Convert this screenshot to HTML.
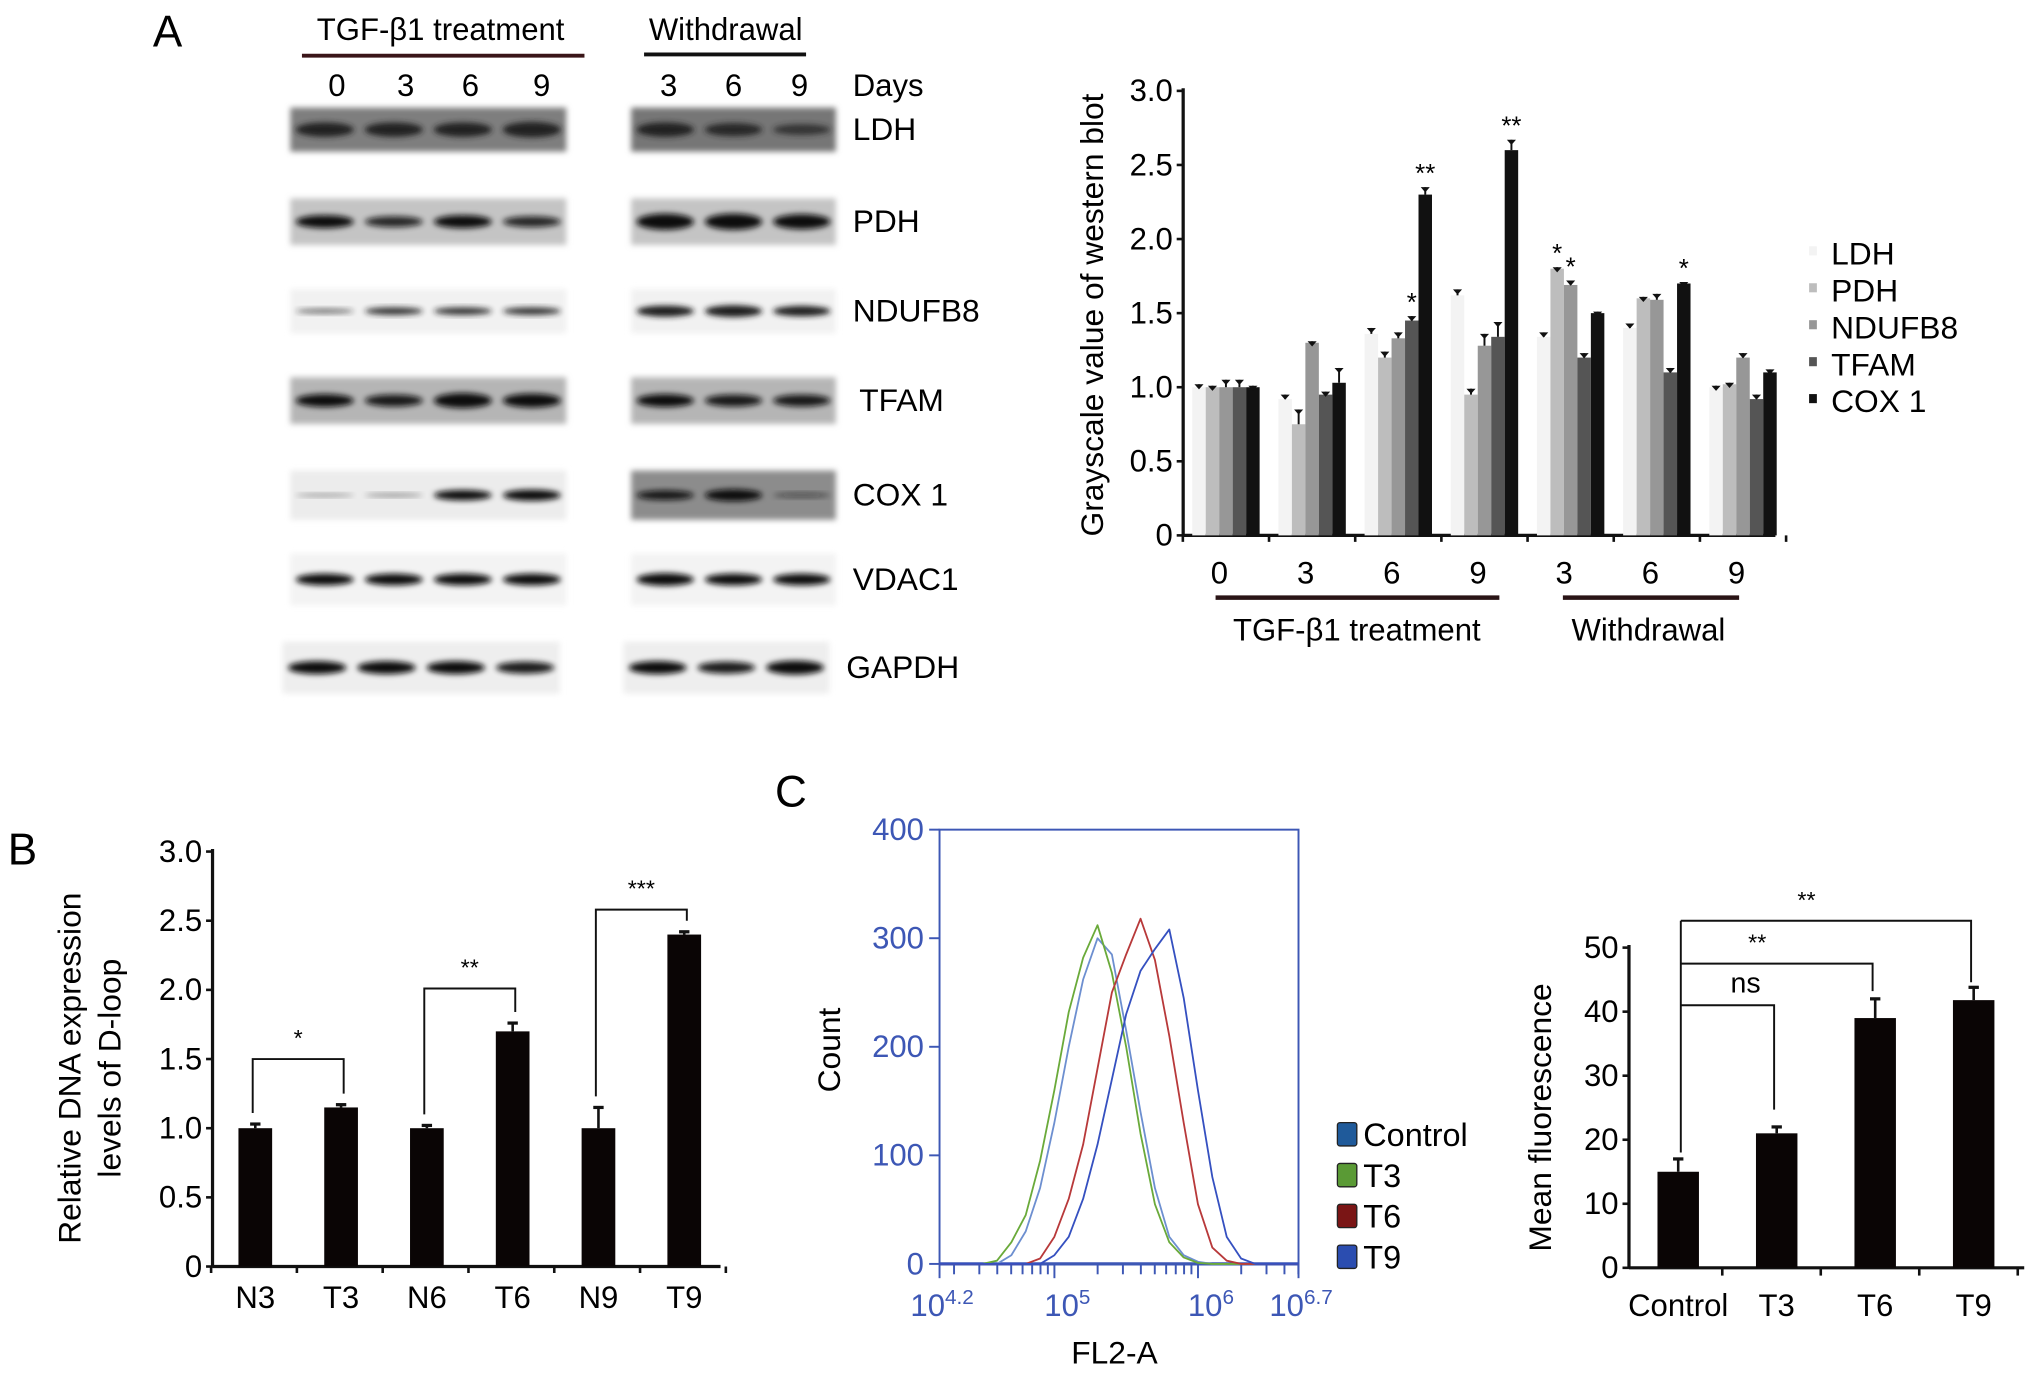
<!DOCTYPE html>
<html><head><meta charset="utf-8"><style>
html,body{margin:0;padding:0;background:#fff;}
svg{display:block;font-family:"Liberation Sans",Arial,sans-serif;}
</style></head><body>
<svg id="fig" width="2032" height="1378" viewBox="0 0 1568 1063" preserveAspectRatio="none" xmlns="http://www.w3.org/2000/svg">
<defs>
<filter id="blur2" x="-20%" y="-50%" width="140%" height="200%"><feGaussianBlur stdDeviation="2.2"/></filter>
</defs>
<rect width="1568" height="1063" fill="#fff"/>
<g id="panelA"></g>
<g id="panelAchart"></g>
<g id="panelB"></g>
<g id="panelC"></g>
<g id="panelC2"></g>
</svg>
<script>
// ---------- Panel A chart data ----------
const aGroups = ["0","3","6","9","3","6","9"];
const aSeriesNames = ["LDH","PDH","NDUFB8","TFAM","COX 1"];
const aLDH    = [1.00,0.92,1.36,1.62,1.34,1.40,1.00];
const aPDH    = [1.00,0.75,1.20,0.95,1.80,1.60,1.02];
const aNDUFB8 = [1.00,1.30,1.33,1.28,1.69,1.59,1.20];
const aTFAM   = [1.00,0.95,1.45,1.34,1.20,1.10,0.92];
const aCOX    = [1.00,1.03,2.30,2.60,1.50,1.70,1.10];
const aErrLDH    = [0.02,0.03,0.04,0.04,0.03,0.03,0.01];
const aErrPDH    = [0.01,0.10,0.04,0.04,0.01,0.01,0.01];
const aErrNDUFB8 = [0.05,0.01,0.04,0.08,0.03,0.04,0.03];
const aErrTFAM   = [0.05,0.02,0.03,0.10,0.03,0.03,0.03];
const aErrCOX    = [0.01,0.10,0.05,0.07,0.01,0.01,0.02];
const aTicks = ["0","0.5","1.0","1.5","2.0","2.5","3.0"];
const aStars = [[2,3,"*"],[2,4,"**"],[3,4,"**"],[4,1,"*"],[4,2,"*"],[5,4,"*"]];

// ---------- Panel B data ----------
const bCats = ["N3","T3","N6","T6","N9","T9"];
const bVals = [1.00,1.15,1.00,1.70,1.00,2.40];
const bErr  = [0.03,0.02,0.02,0.06,0.15,0.02];
const bTicks = ["0","0.5","1.0","1.5","2.0","2.5","3.0"];

// ---------- Panel C histogram data (log10 FL2-A bins) ----------
const cBins    = [4.5,4.6,4.7,4.8,4.9,5.0,5.1,5.2,5.3,5.4,5.5,5.6,5.7,5.8,5.9,6.0,6.1,6.2,6.3,6.4];
const cControl = [0,0,8,30,70,130,200,262,300,285,215,140,70,25,8,2,0,0,0,0];
const cT3      = [0,3,20,45,95,160,232,282,312,268,200,120,55,20,6,1,0,0,0,0];
const cT6      = [0,0,0,0,5,25,60,110,180,250,285,318,280,210,130,55,15,3,0,0];
const cT9      = [0,0,0,0,0,8,25,60,110,170,230,270,290,308,245,160,80,25,5,0];
const cYTicks = ["0","100","200","300","400"];

// ---------- Panel C bar data ----------
const dCats = ["Control","T3","T6","T9"];
const dVals = [15.0,21.0,39.0,41.8];
const dErr  = [2.0,1.0,3.0,2.0];
const dTicks = ["0","10","20","30","40","50"];

const NS="http://www.w3.org/2000/svg";
function mk(parent,tag,attrs,text){const e=document.createElementNS(NS,tag);for(const k in attrs)e.setAttribute(k,attrs[k]);if(text!==undefined)e.textContent=text;parent.appendChild(e);return e;}

// ================= Panel A blots =================
const pA=document.getElementById('panelA');
let t;
t=mk(pA,'text',{x:118,y:36,'font-size':34},'A');


t=mk(pA,'text',{x:340,y:31,'font-size':24,'text-anchor':'middle'},'TGF-β1 treatment');


mk(pA,'line',{x1:233,y1:43,x2:451,y2:43,stroke:'#3a1518','stroke-width':3});
t=mk(pA,'text',{x:560,y:31,'font-size':24,'text-anchor':'middle'},'Withdrawal');


mk(pA,'line',{x1:497,y1:42,x2:622,y2:42,stroke:'#111','stroke-width':3});
const dayL=["0","3","6","9"], dayLx=[260,313,363,418], dayR=["3","6","9"], dayRx=[516,566,617];
dayL.forEach((d,i)=>{const e=mk(pA,'text',{x:dayLx[i],y:74,'font-size':24,'text-anchor':'middle'},d);});
dayR.forEach((d,i)=>{const e=mk(pA,'text',{x:dayRx[i],y:74,'font-size':24,'text-anchor':'middle'},d);});
t=mk(pA,'text',{x:658,y:74,'font-size':24},'Days');



const blotRows=[
 {n:'LDH',cy:100,h:34,bg:'#7e7e7e',band:'#222',bh:9,lx:658,wl:[1,1,1,1.1],wr:[1,0.9,0.7]},
 {n:'PDH',cy:171,h:36,bg:'#c4c4c4',band:'#111',bh:8,lx:658,wl:[1,0.8,1,0.8],wr:[1.3,1.3,1.2]},
 {n:'NDUFB8',cy:240,h:34,bg:'#f1f1f1',band:'#1a1a1a',bh:5,lx:658,wl:[0.4,0.8,0.8,0.8],wr:[1.3,1.4,1.2]},
 {n:'TFAM',cy:309,h:36,bg:'#b5b5b5',band:'#111',bh:8,lx:663,wl:[1,0.9,1.2,1.1],wr:[1,0.9,0.9]},
 {n:'COX 1',cy:382,h:38,bg:'#ececec',band:'#111',bh:6,lx:658,wl:[0.1,0.15,1,1.1],wr:[0.9,1.2,0.3]},
 {n:'VDAC1',cy:447,h:40,bg:'#f3f3f3',band:'#111',bh:7,lx:658,wl:[1,1,1,1],wr:[1.1,1,1]},
 {n:'GAPDH',cy:515,h:40,bg:'#eeeeee',band:'#111',bh:8,lx:653,wl:[1,1,1,0.9],wr:[1,0.9,1.1]}
];
blotRows.forEach(r=>{
  const g=mk(pA,'g',{});
  
  
  const lx0=r.n==='GAPDH'?218:224, lx1=r.n==='GAPDH'?432:437, rx0=r.n==='GAPDH'?481:487, rx1=r.n==='GAPDH'?640:645;
  mk(g,'rect',{x:lx0,y:r.cy-r.h/2,width:lx1-lx0,height:r.h,fill:r.bg,filter:'url(#blur2)'});
  mk(g,'rect',{x:rx0,y:r.cy-r.h/2,width:rx1-rx0,height:r.h,fill:r.n==='COX 1'?'#8c8c8c':(r.n==='LDH'?'#767676':r.bg),filter:'url(#blur2)'});
  const lw=(lx1-lx0)/4, rw=(rx1-rx0)/3;
  r.wl.forEach((w,i)=>{mk(g,'ellipse',{cx:lx0+lw*(i+0.5),cy:r.cy,rx:lw*0.42,ry:r.bh*w/2+1,fill:r.band,opacity:Math.min(1,0.3+w*0.7),filter:'url(#blur2)'});});
  r.wr.forEach((w,i)=>{mk(g,'ellipse',{cx:rx0+rw*(i+0.5),cy:r.cy,rx:rw*0.42,ry:r.bh*w/2+1,fill:r.band,opacity:Math.min(1,0.3+w*0.7),filter:'url(#blur2)'});});
  const lt=mk(g,'text',{x:r.lx,y:r.cy+8,'font-size':24.5},r.n);
  
  
});

// ================= Panel A chart =================
const pAc=document.getElementById('panelAchart');
const aX0=913, aY0=413, aYs=114.3, aG0=946, aGs=66.5, aBw=10.4;
const aY=v=>aY0-v*aYs;
const aGX=i=>aG0+i*aGs;
const aSeries=[aLDH,aPDH,aNDUFB8,aTFAM,aCOX];
const aErrs=[aErrLDH,aErrPDH,aErrNDUFB8,aErrTFAM,aErrCOX];
const aCols=['#f3f3f3','#bdbdbd','#979797','#555555','#111111'];
mk(pAc,'line',{x1:aX0,y1:aY(3)-2,x2:aX0,y2:aY0,stroke:'#111','stroke-width':2.5});
mk(pAc,'line',{x1:aX0,y1:aY0,x2:1370,y2:aY0,stroke:'#111','stroke-width':2.5});
aTicks.forEach((tk,i)=>{const v=parseFloat(tk);mk(pAc,'line',{x1:aX0-5,y1:aY(v),x2:aX0,y2:aY(v),stroke:'#111','stroke-width':2});
 const e=mk(pAc,'text',{x:aX0-8,y:aY(v)+8,'font-size':24,'text-anchor':'end'},tk);});
for(let i=0;i<=aGroups.length;i++){const x=aGX(i)-aGs/2;mk(pAc,'line',{x1:x,y1:aY0,x2:x,y2:aY0+5,stroke:'#111','stroke-width':2});}
aGroups.forEach((gl,i)=>{const e=mk(pAc,'text',{x:aGX(i)-5,y:450,'font-size':24,'text-anchor':'middle'},gl);});
aSeries.forEach((s,si)=>{s.forEach((v,gi)=>{
  const x=aGX(gi)+(si-2)*aBw-aBw/2;
  const r=mk(pAc,'rect',{x:x,y:aY(v),width:aBw,height:aY0-aY(v),fill:aCols[si]});
  
  
  const cx=x+aBw/2, top=aY(v+aErrs[si][gi]);
  mk(pAc,'line',{x1:cx,y1:aY(v),x2:cx,y2:top,stroke:'#111','stroke-width':1.5});
  mk(pAc,'path',{d:`M${cx-3.5},${top} L${cx+3.5},${top} L${cx},${top+4}Z`,fill:'#111'});
});});
aStars.forEach(([gi,si,s])=>{const v=aSeries[si][gi]+aErrs[si][gi];const cx=aGX(gi)+(si-2)*aBw;
 const e=mk(pAc,'text',{x:cx,y:aY(v)-4,'font-size':20,'text-anchor':'middle'},s);});
mk(pAc,'line',{x1:938,y1:461,x2:1157,y2:461,stroke:'#2a1416','stroke-width':3.5});
mk(pAc,'line',{x1:1206,y1:461,x2:1342,y2:461,stroke:'#2a1416','stroke-width':3.5});
t=mk(pAc,'text',{x:1047,y:494,'font-size':24,'text-anchor':'middle'},'TGF-β1 treatment');
t=mk(pAc,'text',{x:1272,y:494,'font-size':24,'text-anchor':'middle'},'Withdrawal');
t=mk(pAc,'text',{x:0,y:0,'font-size':24.5,'text-anchor':'middle',transform:'translate(851,243) rotate(-90)'},'Grayscale value of western blot');
aSeriesNames.forEach((n,i)=>{const y=196+i*28.5;
 const g=mk(pAc,'g',{});
 mk(g,'rect',{x:1396,y:y-6,width:6,height:7,fill:aCols[i]});
 mk(g,'text',{x:1413,y:y+8,'font-size':24.5},n);});

// ================= Panel B =================
const pB=document.getElementById('panelB');
const bX0=164, bY0=977, bYs=106.7, bC0=197, bCs=66.2, bBw=26;
const bY=v=>bY0-v*bYs;
const bX=i=>bC0+i*bCs;
t=mk(pB,'text',{x:6,y:667,'font-size':34},'B');
mk(pB,'line',{x1:bX0,y1:bY(3)-2,x2:bX0,y2:bY0,stroke:'#111','stroke-width':2.5});
mk(pB,'line',{x1:bX0,y1:bY0,x2:556,y2:bY0,stroke:'#111','stroke-width':2.5});
bTicks.forEach(tk=>{const v=parseFloat(tk);mk(pB,'line',{x1:bX0-5,y1:bY(v),x2:bX0,y2:bY(v),stroke:'#111','stroke-width':2});
 const e=mk(pB,'text',{x:bX0-8,y:bY(v)+8,'font-size':24,'text-anchor':'end'},tk);});
for(let i=0;i<=bCats.length;i++){const x=bX(i)-bCs/2-1;mk(pB,'line',{x1:x,y1:bY0,x2:x,y2:bY0+5,stroke:'#111','stroke-width':2});}
bCats.forEach((c,i)=>{
 const r=mk(pB,'rect',{x:bX(i)-bBw/2,y:bY(bVals[i]),width:bBw,height:bY0-bY(bVals[i]),fill:'#0a0505'});
 
 const top=bY(bVals[i]+bErr[i]);
 mk(pB,'line',{x1:bX(i),y1:bY(bVals[i]),x2:bX(i),y2:top,stroke:'#111','stroke-width':2});
 mk(pB,'line',{x1:bX(i)-4,y1:top,x2:bX(i)+4,y2:top,stroke:'#111','stroke-width':2.5});
 const e=mk(pB,'text',{x:bX(i),y:1009,'font-size':24,'text-anchor':'middle'},c);
});
[[0,1,1.5,"*"],[2,3,2.01,"**"],[4,5,2.58,"***"]].forEach(([a,b,lv,s])=>{
 const y=bY(lv);
 const g=mk(pB,'g',{});
 mk(g,'path',{d:`M${bX(a)-2},${bY(bVals[a]+bErr[a]+0.08)} V${y} H${bX(b)+2} V${bY(bVals[b]+bErr[b]+0.08)}`,fill:'none',stroke:'#111','stroke-width':1.5});
 mk(g,'text',{x:(bX(a)+bX(b))/2,y:y-10,'font-size':18,'text-anchor':'middle'},s);
});
t=mk(pB,'text',{x:0,y:0,'font-size':24.5,'text-anchor':'middle',transform:'translate(62,824) rotate(-90)'},'Relative DNA expression');
t=mk(pB,'text',{x:0,y:0,'font-size':24.5,'text-anchor':'middle',transform:'translate(93,824) rotate(-90)'},'levels of D-loop');

// ================= Panel C histogram =================
const pC=document.getElementById('panelC');
const cL=725, cR=1002, cT=640, cB=975;
const cXs=v=>cL+(v-4.2)/(6.7-4.2)*(cR-cL);
const cYs=v=>cB-v/400*(cB-cT);
const blue='#3d57b5';
t=mk(pC,'text',{x:598,y:622,'font-size':34},'C');
mk(pC,'rect',{x:cL,y:cT,width:cR-cL,height:cB-cT,fill:'none',stroke:blue,'stroke-width':1.5});
mk(pC,'line',{x1:cL,y1:cB,x2:cR,y2:cB,stroke:blue,'stroke-width':2.5});
cYTicks.forEach(tk=>{const v=+tk;mk(pC,'line',{x1:cL-8,y1:cYs(v),x2:cL,y2:cYs(v),stroke:blue,'stroke-width':1.5});
 const e=mk(pC,'text',{x:cL-12,y:cYs(v)+8,'font-size':24,'text-anchor':'end',fill:blue},tk);});
for(let d=4;d<=6;d++){for(let m=1;m<10;m++){const lv=d+Math.log10(m);if(lv<4.2||lv>6.7)continue;mk(pC,'line',{x1:cXs(lv),y1:cB,x2:cXs(lv),y2:cB+(m===1?11:8),stroke:blue,'stroke-width':1.5});}}
mk(pC,'line',{x1:cL,y1:cB,x2:cL,y2:cB+11,stroke:blue,'stroke-width':1.5});
mk(pC,'line',{x1:cR,y1:cB,x2:cR,y2:cB+11,stroke:blue,'stroke-width':1.5});
[[4.2,'4.2',2],[5,'5',10],[6,'6',10],[6.7,'6.7',2]].forEach(([v,s,off])=>{
 const e=mk(pC,'text',{x:cXs(v)+off,y:1015,'font-size':24,'text-anchor':'middle',fill:blue});
 
 const a=document.createElementNS(NS,'tspan');a.textContent='10';e.appendChild(a);
 const b=document.createElementNS(NS,'tspan');b.setAttribute('dy','-9');b.setAttribute('font-size','16');b.textContent=s;e.appendChild(b);
});
t=mk(pC,'text',{x:0,y:0,'font-size':24.5,'text-anchor':'middle',transform:'translate(648,810) rotate(-90)'},'Count');
t=mk(pC,'text',{x:860,y:1052,'font-size':24.5,'text-anchor':'middle'},'FL2-A');
const cSeries=[[cControl,'#6d8fd0','Control','#1f5a9a'],[cT3,'#6aaa3a','T3','#5a9a35'],[cT6,'#b8393a','T6','#7a1515'],[cT9,'#3550c0','T9','#2b4db0']];
cSeries.forEach(([arr,col,name])=>{
 let d='M'+cL+','+cB;
 arr.forEach((v,i)=>{const x=cXs(cBins[i]);d+=' L'+x.toFixed(1)+','+cYs(v).toFixed(1);});
 d+=' L'+cR+','+cB;
 const p=mk(pC,'path',{d:d,fill:'none',stroke:col,'stroke-width':1.4,'stroke-linejoin':'round'});
 
 
});
cSeries.forEach(([arr,col,name,sw],i)=>{const y=875+i*31.5;
 const g=mk(pC,'g',{});
 mk(g,'rect',{x:1032,y:y-9,width:15,height:18,rx:2,fill:sw,stroke:'#222','stroke-width':1});
 mk(g,'text',{x:1052,y:y+9,'font-size':25},name);});

// ================= Panel C bar chart =================
const pD=document.getElementById('panelC2');
const dX0=1257, dY0=978, dYs=4.94, dC0=1295, dCs=76, dBw=32;
const dY=v=>dY0-v*dYs;
const dX=i=>dC0+i*dCs;
mk(pD,'line',{x1:dX0,y1:dY(50)-2,x2:dX0,y2:dY0,stroke:'#111','stroke-width':2.5});
mk(pD,'line',{x1:dX0,y1:dY0,x2:1562,y2:dY0,stroke:'#111','stroke-width':2.5});
dTicks.forEach(tk=>{const v=+tk;mk(pD,'line',{x1:dX0-5,y1:dY(v),x2:dX0,y2:dY(v),stroke:'#111','stroke-width':2});
 const e=mk(pD,'text',{x:dX0-8,y:dY(v)+8,'font-size':24,'text-anchor':'end'},tk);});
for(let i=1;i<=dCats.length;i++){const x=dX(i)-dCs/2-4;mk(pD,'line',{x1:x,y1:dY0,x2:x,y2:dY0+6,stroke:'#111','stroke-width':2});}
dCats.forEach((c,i)=>{
 const r=mk(pD,'rect',{x:dX(i)-dBw/2,y:dY(dVals[i]),width:dBw,height:dY0-dY(dVals[i]),fill:'#0a0505'});
 
 const top=dY(dVals[i]+dErr[i]);
 mk(pD,'line',{x1:dX(i),y1:dY(dVals[i]),x2:dX(i),y2:top,stroke:'#111','stroke-width':2});
 mk(pD,'line',{x1:dX(i)-4,y1:top,x2:dX(i)+4,y2:top,stroke:'#111','stroke-width':2.5});
 const e=mk(pD,'text',{x:dX(i),y:1015,'font-size':24,'text-anchor':'middle'},c);
});
const brk=[[1,41,24.7,'ns',22,14],[2,47.5,43.2,'**',18,-15],[3,54.2,44.6,'**',18,-15]];
mk(pD,'line',{x1:dX(0)+2,y1:dY(54.2),x2:dX(0)+2,y2:dY(dVals[0]+dErr[0]+1),stroke:'#111','stroke-width':1.5});
brk.forEach(([j,lv,end,s,fs,off])=>{
 const g=mk(pD,'g',{});
 mk(g,'path',{d:`M${dX(0)+2},${dY(lv)} H${dX(j)-2} V${dY(end)}`,fill:'none',stroke:'#111','stroke-width':1.5});
 mk(g,'text',{x:(dX(0)+dX(j))/2+off,y:dY(lv)-10,'font-size':fs,'text-anchor':'middle'},s);
});
t=mk(pD,'text',{x:0,y:0,'font-size':24.5,'text-anchor':'middle',transform:'translate(1197,862) rotate(-90)'},'Mean fluorescence');
</script>
</body></html>
